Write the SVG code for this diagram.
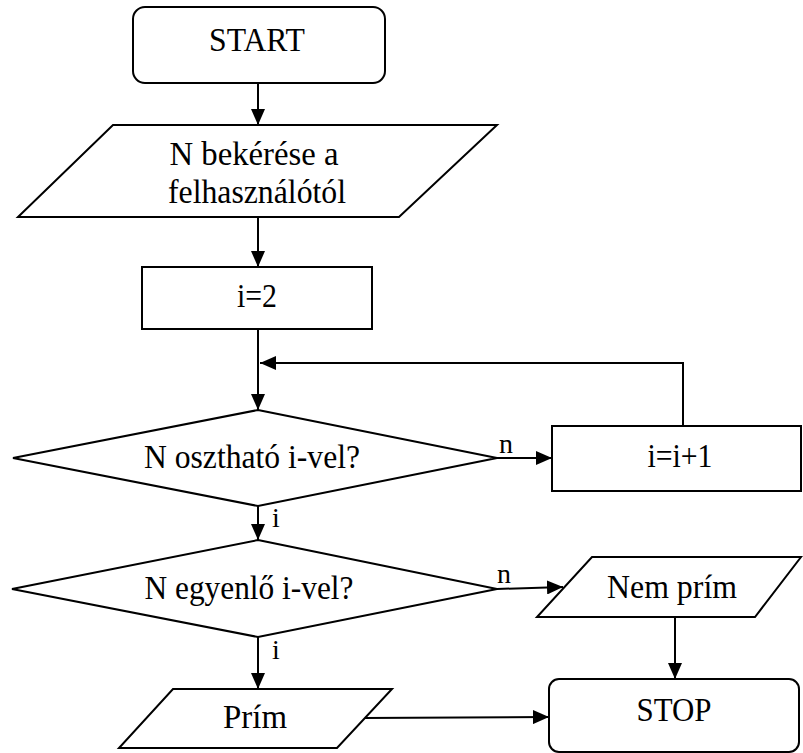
<svg xmlns="http://www.w3.org/2000/svg" width="803" height="753" viewBox="0 0 803 753">
<defs>
<style>
.s{fill:#fff;stroke:#000;stroke-width:2}
.t{font-family:"Liberation Serif","Times New Roman",serif;font-size:33px;fill:#000;text-anchor:middle}
.l{font-family:"Liberation Serif","Times New Roman",serif;font-size:28px;fill:#000}
.c{fill:none;stroke:#000;stroke-width:2}
</style>
<marker id="ah" viewBox="0 0 16 14" refX="16" refY="7" markerWidth="16" markerHeight="14" markerUnits="userSpaceOnUse" orient="auto">
<path d="M0,0 L16,7 L0,14 Z" fill="#000"/>
</marker>
</defs>
<rect width="803" height="753" fill="#fff"/>
<g id="connectors">
<line class="c" x1="258" y1="83" x2="258" y2="125" marker-end="url(#ah)"/>
<line class="c" x1="258" y1="217" x2="258" y2="267" marker-end="url(#ah)"/>
<line class="c" x1="258" y1="329" x2="258" y2="410" marker-end="url(#ah)"/>
<polyline class="c" points="683,426 683,363 260,363" marker-end="url(#ah)"/>
<line class="c" x1="497" y1="458" x2="552" y2="458" marker-end="url(#ah)"/>
<line class="c" x1="258" y1="506" x2="258" y2="540" marker-end="url(#ah)"/>
<line class="c" x1="497" y1="589" x2="563" y2="587" marker-end="url(#ah)"/>
<line class="c" x1="258" y1="637" x2="258" y2="689" marker-end="url(#ah)"/>
<line class="c" x1="675" y1="617" x2="675" y2="679" marker-end="url(#ah)"/>
<line class="c" x1="363" y1="718" x2="549" y2="717" marker-end="url(#ah)"/>
<text class="l" x="499" y="453">n</text>
<text class="l" x="272" y="527">i</text>
<text class="l" x="497" y="583">n</text>
<text class="l" x="272" y="659">i</text>
</g>
<g id="start">
<rect class="s" x="133" y="7" width="252" height="76" rx="12"/>
<text class="t" x="257" y="51" textLength="96" lengthAdjust="spacingAndGlyphs">START</text>
</g>
<g id="input">
<polygon class="s" points="113,125 497,125 399,217 18,217"/>
<text class="t" x="254" y="165" textLength="169" lengthAdjust="spacingAndGlyphs">N bekérése a</text>
<text class="t" x="257" y="203" textLength="178" lengthAdjust="spacingAndGlyphs">felhasználótól</text>
</g>
<g id="init">
<rect class="s" x="142" y="267" width="230" height="62"/>
<text class="t" x="257" y="307" textLength="40" lengthAdjust="spacingAndGlyphs">i=2</text>
</g>
<g id="cond1">
<polygon class="s" points="258,410 497,458 258,506 13,458"/>
<text class="t" x="252" y="468" textLength="216" lengthAdjust="spacingAndGlyphs">N osztható i-vel?</text>
</g>
<g id="incr">
<rect class="s" x="552" y="426" width="249" height="65"/>
<text class="t" x="680" y="467" textLength="65" lengthAdjust="spacingAndGlyphs">i=i+1</text>
</g>
<g id="cond2">
<polygon class="s" points="258,540 497,589 258,637 12,589"/>
<text class="t" x="249" y="599" textLength="209" lengthAdjust="spacingAndGlyphs">N egyenlő i-vel?</text>
</g>
<g id="nemprim">
<polygon class="s" points="592,557 801,557 755,617 537,617"/>
<text class="t" x="672" y="598" textLength="130" lengthAdjust="spacingAndGlyphs">Nem prím</text>
</g>
<g id="prim">
<polygon class="s" points="173,689 392,689 337,748 119,748"/>
<text class="t" x="255" y="728" textLength="64" lengthAdjust="spacingAndGlyphs">Prím</text>
</g>
<g id="stop">
<rect class="s" x="549" y="679" width="250" height="73" rx="10"/>
<text class="t" x="674" y="721" textLength="75" lengthAdjust="spacingAndGlyphs">STOP</text>
</g>
</svg>
